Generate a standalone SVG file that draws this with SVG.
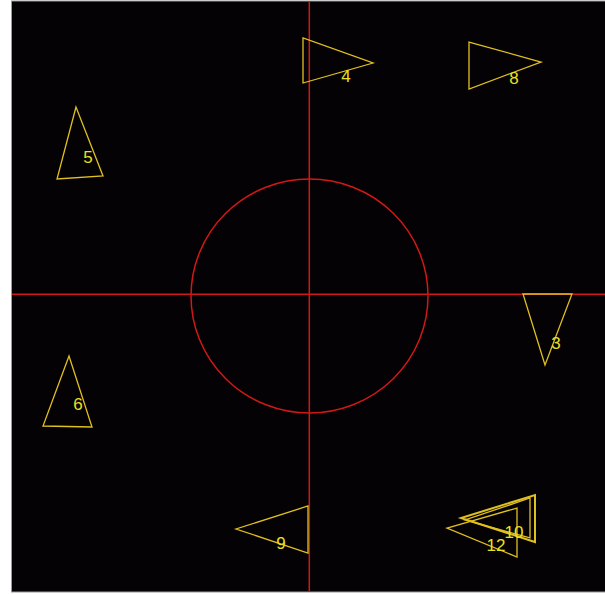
<svg xmlns="http://www.w3.org/2000/svg" width="605" height="594" viewBox="0 0 605 594">
<style>
.tri{fill:none;stroke:#e0c020;stroke-width:1.3}
.lbl{font-family:"Liberation Sans",Arial,sans-serif;font-size:17px;fill:#e8e020;text-anchor:middle}
.ax{stroke:#d01818;stroke-width:1.5;fill:none}
</style>
<rect x="0" y="0" width="605" height="594" fill="#ffffff"/>
<rect x="11.5" y="1" width="594" height="591" fill="#050205" stroke="#9a9a9a" stroke-width="1"/>
<g id="axes">
<ellipse class="ax" cx="309.5" cy="296" rx="118.5" ry="117"/>
<line class="ax" x1="309.3" y1="1" x2="309.3" y2="592"/>
<line class="ax" x1="12" y1="294.3" x2="605" y2="294.3"/>
</g>
<g id="t4"><polygon class="tri" points="303,38 303,83 373,63"/><text class="lbl" x="346" y="82">4</text></g>
<g id="t8"><polygon class="tri" points="469,42 469,89 541,62"/><text class="lbl" x="514" y="84">8</text></g>
<g id="t5"><polygon class="tri" points="76,107 57,179 103,176"/><text class="lbl" x="88" y="163">5</text></g>
<g id="t6"><polygon class="tri" points="69,356 43,426 92,427"/><text class="lbl" x="78" y="410">6</text></g>
<g id="t3"><polygon class="tri" points="523,294 572,294 545,365"/><text class="lbl" x="556" y="349">3</text></g>
<g id="t9"><polygon class="tri" points="308,506 308,553 236,529"/><text class="lbl" x="281" y="549">9</text></g>
<g id="t12"><polygon class="tri" points="517,508 517,557 447,528"/><text class="lbl" x="496" y="551">12</text></g>
<g id="t10"><polygon class="tri" points="535,495 535,542 461,518" style="stroke-width:2"/><polygon class="tri" points="530,498 530,538 465,520"/><text class="lbl" x="514" y="538">10</text></g>
</svg>
